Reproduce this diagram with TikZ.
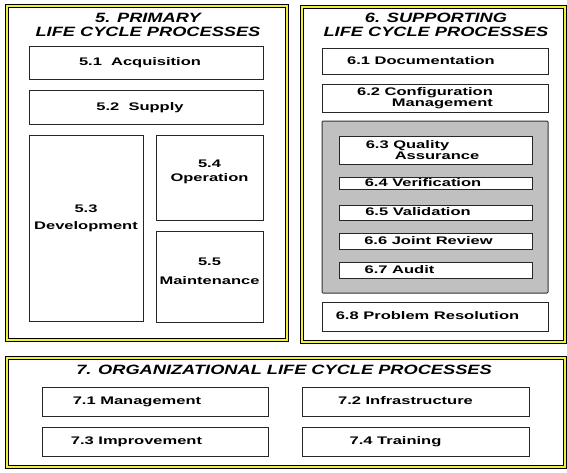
\documentclass[tikz,border=0pt]{standalone}
\usepackage{fontspec}
\setmainfont{Liberation Sans}
\newfontfamily\boxfont{Liberation Sans}[FakeStretch=1.5]
\newfontfamily\headfont{Liberation Sans}[FakeStretch=1.35]
\definecolor{panelgray}{RGB}{192,192,192}
\definecolor{frameyellow}{RGB}{240,240,60}
\begin{document}
\begin{tikzpicture}[x=1pt, y=-1pt,
  frame/.style={draw=black, line width=0.7pt, double=frameyellow, double distance=1.8pt, inner sep=0pt},
  proc/.style={draw=black!85, line width=1pt, fill=white, inner sep=0pt, font=\fontsize{11}{11}\selectfont\boxfont\bfseries},
  oneline/.style={proc, text height=7pt, text depth=1pt},
  twoline/.style={proc, align=center},
  heading/.style={font=\fontsize{13.5}{14.5}\selectfont\headfont\bfseries\itshape, align=center, inner sep=0pt}]
\useasboundingbox (0,0) rectangle (567,472);
% the three outer frames
\node[frame, minimum width=280, minimum height=334] (prim) at (147,173) {};
\node[frame, minimum width=263, minimum height=335] (supp) at (433.5,174.5) {};
\node[frame, minimum width=558, minimum height=109] (org) at (286,412.5) {};
% 5. primary processes
\node[heading] (primtitle) at (148,25) {5. PRIMARY\\LIFE CYCLE PROCESSES};
\node[oneline, minimum width=234, minimum height=33] (acq) at (146,62.5) {5.1\ \ Acquisition\hspace*{12pt}};
\node[oneline, minimum width=234, minimum height=34] (supply) at (146,107) {5.2\ \ Supply\hspace*{12pt}};
\node[twoline, minimum width=114, minimum height=186] (dev) at (86,228) {5.3\\[6pt]Development\\[10pt]};
\node[twoline, minimum width=107, minimum height=85] (oper) at (209.5,177.5) {5.4\\[3pt]Operation\\[3pt]};
\node[twoline, minimum width=107, minimum height=91] (maint) at (209.5,276.5) {5.5\\[8pt]Maintenance\\[0pt]};
% 6. supporting processes
\node[heading] (supptitle) at (436,25) {6. SUPPORTING\\LIFE CYCLE PROCESSES};
\node[oneline, minimum width=226, minimum height=26] (doc) at (435,61) {6.1 Documentation\hspace*{28pt}};
\node[twoline, align=right, minimum width=226, minimum height=28] (conf) at (435,98) {6.2 Configuration\hspace*{20pt}\\Management\hspace*{20pt}};
\node[draw=black!80, line width=1pt, fill=panelgray, rounded corners=1pt, minimum width=226, minimum height=172, inner sep=0pt] (qgroup) at (435,207) {};
\node[twoline, align=left, minimum width=193, minimum height=28] (qa) at (435.5,150) {6.3 Quality\\\hspace*{29pt}Assurance\hspace*{26pt}};
\node[oneline, minimum width=193, minimum height=12] (verif) at (435.5,183) {6.4 Verification\hspace*{25pt}};
\node[oneline, minimum width=193, minimum height=15] (valid) at (435.5,212.5) {6.5 Validation\hspace*{35pt}};
\node[oneline, minimum width=193, minimum height=16] (review) at (435.5,241) {6.6 Joint Review\hspace*{14pt}};
\node[oneline, minimum width=193, minimum height=16] (audit) at (435.5,270) {6.7 Audit\hspace*{72pt}};
\node[oneline, minimum width=226, minimum height=29] (probres) at (435,316.5) {6.8 Problem Resolution\hspace*{15pt}};
% 7. organizational processes
\node[heading] (orgtitle) at (284,370) {7. ORGANIZATIONAL LIFE CYCLE PROCESSES};
\node[oneline, minimum width=226, minimum height=29] (mgmt) at (155,401.5) {7.1 Management\hspace*{36pt}};
\node[oneline, minimum width=227, minimum height=29] (infra) at (415.5,401.5) {7.2 Infrastructure\hspace*{20pt}};
\node[oneline, minimum width=226, minimum height=29] (impr) at (155,441.5) {7.3 Improvement\hspace*{37pt}};
\node[oneline, minimum width=227, minimum height=29] (train) at (415.5,441.5) {7.4 Training\hspace*{40pt}};
\end{tikzpicture}
\end{document}
